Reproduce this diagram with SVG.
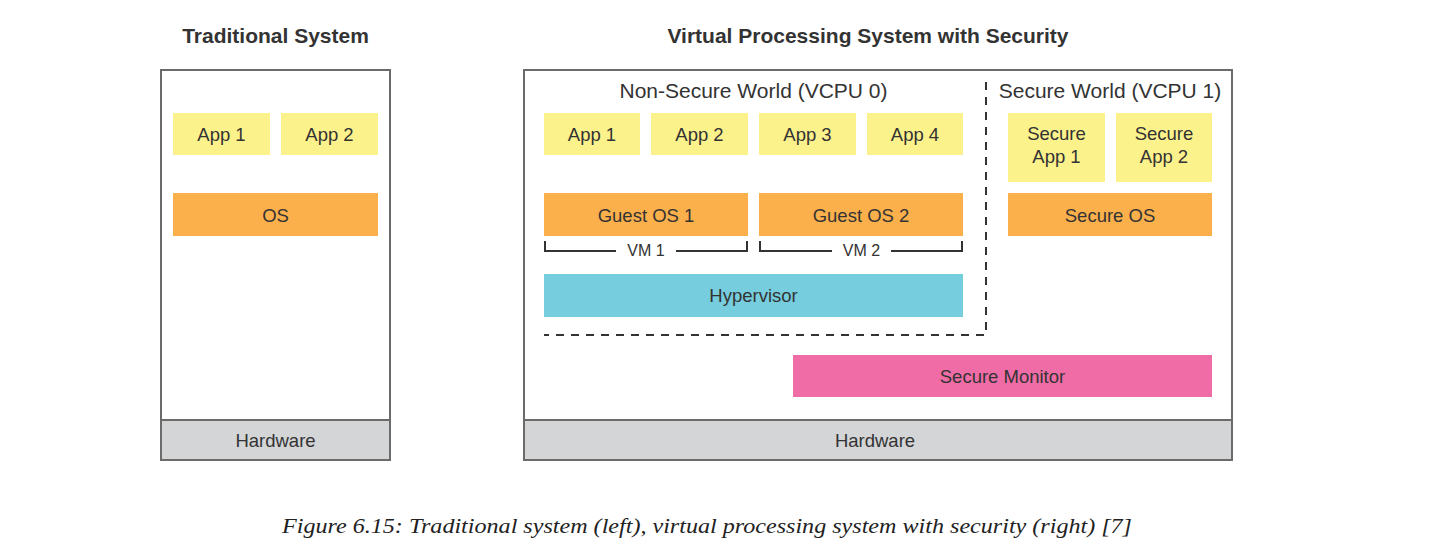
<svg xmlns="http://www.w3.org/2000/svg" width="1440" height="557" viewBox="0 0 1440 557">
<style>
text{font-family:"Liberation Sans",Arial,sans-serif;fill:#333;text-anchor:middle}
.t{font-size:21px;font-weight:bold}
.w{font-size:21px}
.l{font-size:18.5px}
.s{font-size:16px}
.frame{fill:#fff;stroke:#6b6b6b;stroke-width:2}
.hw{fill:#d4d5d7;stroke:#6b6b6b;stroke-width:2}
.app{fill:#fcf28c}
.os{fill:#fbb04c}
.hyp{fill:#75cddd}
.mon{fill:#f06ca6}
.br{fill:none;stroke:#333;stroke-width:2}
.dash{fill:none;stroke:#333;stroke-width:2;stroke-dasharray:8 7}
.cap{font-family:"Liberation Serif","Times New Roman",serif;font-style:italic;font-size:21px;fill:#222}
</style>
<rect width="1440" height="557" fill="#fff"/>
<text class="t" x="275.5" y="43">Traditional System</text>
<text class="t" x="868" y="43">Virtual Processing System with Security</text>

<g id="traditional">
<rect class="frame" x="161" y="70" width="229" height="390"/>
<rect class="hw" x="161" y="420" width="229" height="40"/>
<text class="l" x="275.5" y="447">Hardware</text>
</g>
<g id="t-app1"><rect class="app" x="173" y="113" width="97" height="42"/><text class="l" x="221.5" y="140.5">App 1</text></g>
<g id="t-app2"><rect class="app" x="281" y="113" width="97" height="42"/><text class="l" x="329.5" y="140.5">App 2</text></g>
<g id="t-os"><rect class="os" x="173" y="193" width="205" height="43"/><text class="l" x="275.5" y="221.5">OS</text></g>

<g id="virtual">
<rect class="frame" x="524" y="70" width="708" height="390"/>
<rect class="hw" x="524" y="420" width="708" height="40"/>
<text class="l" x="875" y="447">Hardware</text>
</g>
<g id="nonsecure-title"><text class="w" x="753.5" y="98">Non-Secure World (VCPU 0)</text></g>
<g id="secure-title"><text class="w" x="1110" y="98">Secure World (VCPU 1)</text></g>
<g id="v-app1"><rect class="app" x="544" y="113" width="96" height="42"/><text class="l" x="592" y="140.5">App 1</text></g>
<g id="v-app2"><rect class="app" x="651" y="113" width="97" height="42"/><text class="l" x="699.5" y="140.5">App 2</text></g>
<g id="v-app3"><rect class="app" x="759" y="113" width="97" height="42"/><text class="l" x="807.5" y="140.5">App 3</text></g>
<g id="v-app4"><rect class="app" x="867" y="113" width="96" height="42"/><text class="l" x="915" y="140.5">App 4</text></g>
<g id="guest-os1"><rect class="os" x="544" y="193" width="204" height="43"/><text class="l" x="646" y="221.5">Guest OS 1</text></g>
<g id="guest-os2"><rect class="os" x="759" y="193" width="204" height="43"/><text class="l" x="861" y="221.5">Guest OS 2</text></g>
<g id="vm1"><path class="br" d="M545,241 V251 H616 M676,251 H747 V241"/><text class="s" x="646" y="256">VM 1</text></g>
<g id="vm2"><path class="br" d="M760,241 V251 H832 M891,251 H962 V241"/><text class="s" x="861.5" y="256">VM 2</text></g>
<g id="hypervisor"><rect class="hyp" x="544" y="274" width="419" height="43"/><text class="l" x="753.5" y="302">Hypervisor</text></g>
<g id="secure-app1"><rect class="app" x="1008" y="113" width="97" height="69"/><text class="l" x="1056.5" y="140">Secure</text><text class="l" x="1056.5" y="163">App 1</text></g>
<g id="secure-app2"><rect class="app" x="1116" y="113" width="96" height="69"/><text class="l" x="1164" y="140">Secure</text><text class="l" x="1164" y="163">App 2</text></g>
<g id="secure-os"><rect class="os" x="1008" y="193" width="204" height="43"/><text class="l" x="1110" y="221.5">Secure OS</text></g>
<g id="secure-monitor"><rect class="mon" x="793" y="355" width="419" height="42"/><text class="l" x="1002.5" y="383">Secure Monitor</text></g>

<g id="connectors">
<path class="dash" d="M986,82 V335 H544"/>
</g>

<text class="cap" x="707" y="533" textLength="850" lengthAdjust="spacingAndGlyphs">Figure 6.15:  Traditional system (left), virtual processing system with security (right) [7]</text>
</svg>
